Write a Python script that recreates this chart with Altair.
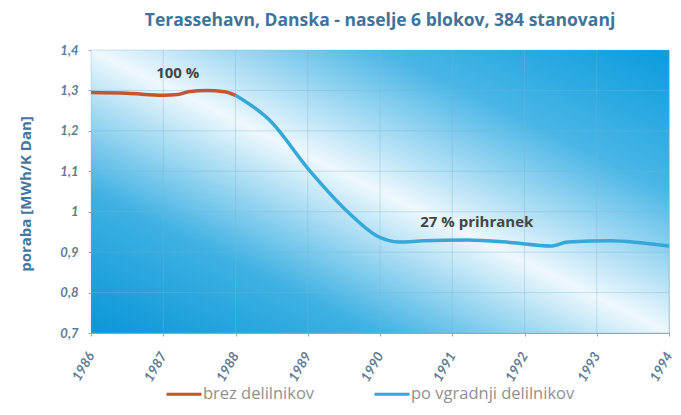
import altair as alt
import pandas as pd

# ---- data ----
red_years = [1986.0, 1986.5, 1987.0, 1987.2, 1987.35, 1987.6, 1987.85, 1988.0]
red_vals = [1.295, 1.293, 1.288, 1.290, 1.297, 1.300, 1.297, 1.288]
blue_years = [1988.0, 1988.47, 1989.02, 1989.57, 1989.98, 1990.26, 1990.6, 1991.2,
              1991.8, 1992.36, 1992.6, 1993.2, 1993.6, 1994.0]
blue_vals = [1.288, 1.227, 1.103, 0.997, 0.938, 0.925, 0.928, 0.930,
             0.924, 0.915, 0.925, 0.928, 0.923, 0.915]
series_names = ["brez delilnikov", "po vgradnji delilnikov"]
series_colors = ["#c4552f", "#35a7d9"]
year_ticks = [1986, 1987, 1988, 1989, 1990, 1991, 1992, 1993, 1994]
y_ticks = [0.7, 0.8, 0.9, 1.0, 1.1, 1.2, 1.3, 1.4]
x_domain = [1986, 1994]
y_domain = [0.7, 1.4]
annot_text = ["100 %", "27 % prihranek"]
annot_x = [1987.2, 1991.34]
annot_y = [1.344, 0.975]
subtitle = "Terassehavn, Danska - naselje 6 blokov, 384 stanovanj"
y_title = "poraba [MWh/K Dan]"

W, H = 578, 283

lines_df = pd.DataFrame({
    "year": red_years + blue_years,
    "value": red_vals + blue_vals,
    "series": [series_names[0]] * len(red_years) + [series_names[1]] * len(blue_years),
})
bg_df = pd.DataFrame({"x0": [x_domain[0]], "x1": [x_domain[1]],
                      "y0": [y_domain[0]], "y1": [y_domain[1]]})
vgrid_df = pd.DataFrame({"year": year_ticks})
hgrid_df = pd.DataFrame({"v": y_ticks})
annot_df = pd.DataFrame({"t": annot_text, "year": annot_x, "value": annot_y})

xs = alt.Scale(domain=x_domain, nice=False, zero=False)
ys = alt.Scale(domain=y_domain, nice=False, zero=False)
label_color = "#5f7d91"
x_axis = alt.Axis(values=year_ticks, format="d", labelAngle=-60, title=None, grid=False,
                  labelColor=label_color, labelFont="Lato", labelFontStyle="italic",
                  labelFontWeight="bold", labelFontSize=13.5, domainColor="#9aa5ad",
                  tickColor="#9aa5ad", tickSize=3, labelPadding=17)
y_axis = alt.Axis(values=y_ticks, labelExpr="replace(format(datum.value, '~g'), '.', ',')",
                  title=y_title, grid=False, labelColor=label_color, labelFont="Lato",
                  labelFontStyle="italic", labelFontWeight="bold", labelFontSize=13,
                  domainColor="#9aa5ad", tickColor="#9aa5ad", tickSize=3, labelPadding=10,
                  titleColor="#45779c", titleFont="Open Sans", titleFontSize=15,
                  titleFontWeight="bold", titleX=-66, titleY=H / 2 + 2, titleAngle=-90,
                  titleBaseline="middle", titleAlign="center")


def xe(f):
    return alt.X(f, type="quantitative", scale=xs, axis=x_axis)


def ye(f):
    return alt.Y(f, type="quantitative", scale=ys, axis=y_axis)


grad = alt.Gradient(
    gradient="linear",
    stops=[
        alt.GradientStop(color="#0a97d6", offset=0),
        alt.GradientStop(color="#3fb1e3", offset=0.25),
        alt.GradientStop(color="#eef8fd", offset=0.5),
        alt.GradientStop(color="#4ab6e6", offset=0.75),
        alt.GradientStop(color="#0a9cdc", offset=1),
    ],
    x1=0, y1=1, x2=1, y2=0,
)

bg = alt.Chart(bg_df).mark_rect(fill=grad).encode(
    x=xe("x0"), x2="x1", y=ye("y0"), y2="y1")

vgrid = alt.Chart(vgrid_df).mark_rule(stroke="#7fb3cf", strokeOpacity=0.35, strokeWidth=1).encode(
    x=xe("year"))
hgrid = alt.Chart(hgrid_df).mark_rule(stroke="#7fb3cf", strokeOpacity=0.35, strokeWidth=1).encode(
    y=ye("v"))

lines = alt.Chart(lines_df).mark_line(strokeWidth=3.5, interpolate="monotone").encode(
    x=xe("year"), y=ye("value"),
    color=alt.Color("series:N", scale=alt.Scale(domain=series_names, range=series_colors),
                    legend=alt.Legend(title=None, orient="none", legendX=74, legendY=325,
                                      direction="horizontal", symbolType="stroke",
                                      symbolSize=1225, symbolStrokeWidth=3,
                                      labelFont="Open Sans", labelFontSize=16.5,
                                      labelColor="#909090", columnPadding=53,
                                      labelOffset=0, labelLimit=300)),
)

annots = alt.Chart(annot_df).mark_text(font="Open Sans", fontWeight="bold", fontSize=15,
                                       color="#454545").encode(
    x=xe("year"), y=ye("value"), text="t:N")

chart = alt.layer(bg, vgrid, hgrid, lines, annots).properties(
    width=W, height=H,
    autosize=alt.AutoSizeParams(type="none"),
    padding={"left": 83, "top": 42, "right": 4, "bottom": 74},
    title=alt.TitleParams(text=subtitle, anchor="middle", fontSize=17.5, font="Open Sans",
                          fontWeight="bold", color="#41739a", offset=15),
).configure_view(stroke="#c8d0d6", strokeWidth=1)

chart.save("out.html", embed_options={"renderer": "svg", "actions": False})
